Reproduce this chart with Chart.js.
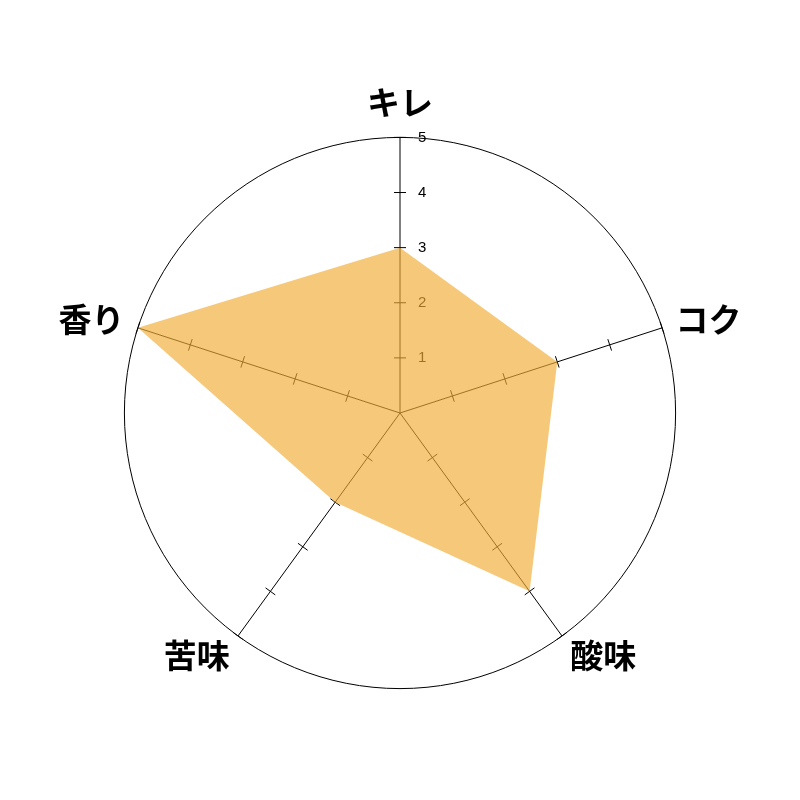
<!DOCTYPE html>
<html>
<head>
<meta charset="utf-8">
<script src="https://cdn.jsdelivr.net/npm/chart.js@4"></script>
<style>
  html, body { margin: 0; padding: 0; background: #fff; }
  #wrap { width: 800px; height: 800px; }
</style>
</head>
<body>
<div id="wrap"><canvas id="chart" width="800" height="800"></canvas></div>
<script>
const labels = ["キレ", "コク", "酸味", "苦味", "香り"];
const values = [3, 3, 4, 2, 5];
const tickValues = [1, 2, 3, 4, 5];

// tick marks across every spoke + numbers on the top spoke, under the fill
const spokeTicks = {
  id: 'spokeTicks',
  beforeDatasetsDraw(chart) {
    const scale = chart.scales.r;
    const ctx = chart.ctx;
    ctx.save();
    ctx.strokeStyle = '#000';
    ctx.lineWidth = 1;
    for (let i = 0; i < labels.length; i++) {
      const ang = scale.getIndexAngle(i);
      const px = Math.cos(ang), py = Math.sin(ang);
      tickValues.forEach(v => {
        const p = scale.getPointPositionForValue(i, v);
        ctx.beginPath();
        ctx.moveTo(p.x - px * 6, p.y - py * 6);
        ctx.lineTo(p.x + px * 6, p.y + py * 6);
        ctx.stroke();
      });
    }
    ctx.fillStyle = '#000';
    ctx.font = '15px "Liberation Sans", Arial, sans-serif';
    ctx.textAlign = 'left';
    ctx.textBaseline = 'middle';
    tickValues.forEach(v => {
      const p = scale.getPointPositionForValue(0, v);
      ctx.fillText(String(v), p.x + 18, p.y);
    });
    ctx.restore();
  },
  // axis names: side ones centred vertically on the spoke end
  afterDraw(chart) {
    const scale = chart.scales.r;
    const ctx = chart.ctx;
    const fs = 33, pad = 14;
    ctx.save();
    ctx.fillStyle = '#000';
    ctx.font = 'bold ' + fs + 'px "Noto Sans CJK JP", sans-serif';
    ctx.textBaseline = 'middle';
    labels.forEach((lab, i) => {
      const p = scale.getPointPositionForValue(i, scale.max);
      const dx = (p.x - scale.xCenter) / scale.drawingArea;
      const dy = (p.y - scale.yCenter) / scale.drawingArea;
      let x = p.x + dx * pad, y = p.y + dy * pad - 4;
      ctx.textAlign = dx > 0.1 ? 'left' : (dx < -0.1 ? 'right' : 'center');
      if (dy < -0.5) y -= fs / 2;
      else if (dy > 0.5) y += fs / 2 - 4;
      ctx.fillText(lab, x, y);
    });
    ctx.restore();
  }
};

new Chart(document.getElementById('chart'), {
  type: 'radar',
  data: {
    labels: labels,
    datasets: [{
      data: values,
      backgroundColor: 'rgba(242,171,53,0.66)',
      borderWidth: 0,
      pointRadius: 0,
      fill: true
    }]
  },
  options: {
    responsive: false,
    animation: false,
    layout: { padding: { top: 62, bottom: 86, left: 30, right: 30 } },
    plugins: { legend: { display: false }, tooltip: { enabled: false } },
    scales: {
      r: {
        min: 0,
        max: 5,
        beginAtZero: true,
        ticks: { stepSize: 1, display: false },
        grid: {
          circular: true,
          color: ctx => (ctx.tick && ctx.tick.value === 5) ? '#000' : 'rgba(0,0,0,0)',
          lineWidth: 1
        },
        angleLines: { color: '#000', lineWidth: 1 },
        pointLabels: {
          color: 'rgba(0,0,0,0)',
          padding: 12,
          font: { size: 32, weight: 'bold', family: '"Noto Sans CJK JP", sans-serif' }
        }
      }
    }
  },
  plugins: [spokeTicks]
});
</script>
</body>
</html>
